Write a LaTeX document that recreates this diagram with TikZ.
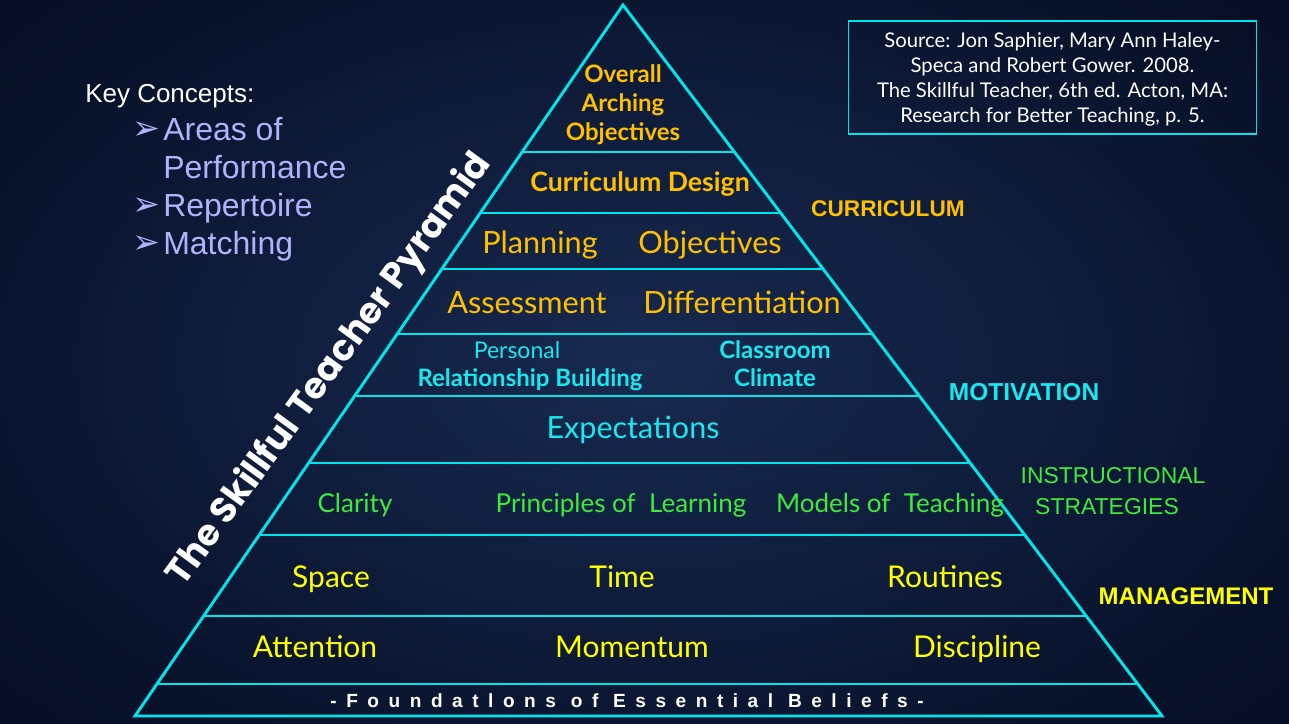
\documentclass[tikz,border=0pt]{standalone}
\usepackage{fontspec}
\usetikzlibrary{calc}
\setmainfont{Lato}
\newfontfamily\arialf{Liberation Sans}
\newfontfamily\spacedf[LetterSpace=50]{Liberation Sans}
\newfontfamily\titlef{Poppins}
\newfontfamily\symf{DejaVu Sans}
\newcommand\fsz[2]{\fontsize{#1}{#2}\selectfont}

\definecolor{bgin}{RGB}{24,42,80}
\definecolor{bgout}{RGB}{5,14,36}
\definecolor{edgecyan}{RGB}{0,228,236}
\definecolor{txtcyan}{RGB}{25,232,240}
\definecolor{gold}{RGB}{255,192,0}
\definecolor{lgreen}{RGB}{60,235,60}
\definecolor{yel}{RGB}{255,255,0}
\definecolor{lav}{RGB}{178,178,252}

\tikzset{
  edge/.style={draw=edgecyan, line width=2.2pt, line join=miter},
  tier/.style={draw=edgecyan, line width=1.1pt},
  % cap-height box: the node centre sits in the middle of the capitals
  lbl/.style={inner sep=0pt, text height=#1, text depth=0pt, anchor=center},
  goldb/.style={lbl=12.96pt, text=gold, font=\bfseries\fsz{18}{22}},
  goldr/.style={lbl=16.56pt, text=gold, font=\fsz{23}{27}},
  cyanr/.style={lbl=12.42pt, text=txtcyan, font=\fsz{17.25}{21}},
  cyanb/.style={lbl=12.96pt, text=txtcyan, font=\bfseries\fsz{18}{22}},
  cyanbig/.style={lbl=16.5pt, text=txtcyan, font=\fsz{22.9}{27}},
  greenr/.style={lbl=14.04pt, text=lgreen, font=\fsz{19.5}{23}},
  yelr/.style={lbl=16.2pt, text=yel, font=\fsz{22.5}{27}},
  keyitem/.style={inner sep=0pt, text height=17.2pt, text depth=0pt, anchor=west,
                  text=lav, font=\arialf\fsz{24}{28}},
  bullet/.style={inner sep=0pt, text height=15pt, text depth=0pt, text=lav, font=\symf\fsz{25}{28}},
}

\begin{document}
\begin{tikzpicture}[x=0.75pt, y=-0.75pt]
  \path[use as bounding box] (0,0) rectangle (1289,724);
  \shade[inner color=bgin, outer color=bgout] (-200,-150) rectangle (1489,874);

  % pyramid outline
  \coordinate (apex) at (623,5);
  \coordinate (bl) at (135,716);
  \coordinate (br) at (1162,716);
  \foreach \yy in {152,213,269,334,396,463,535,616,684}
    \draw[tier] ($(apex)!{(\yy-5)/711}!(bl)$) -- ($(apex)!{(\yy-5)/711}!(br)$);
  \draw[edge] (apex) -- (br) -- (bl) -- cycle;

  % curriculum tiers
  \node[goldb] (oa1) at (623,74) {Overall};
  \node[goldb] (oa2) at (623,103) {Arching};
  \node[goldb] (oa3) at (623,132) {Objectives};
  \node[lbl=14.4pt, text=gold, font=\bfseries\fsz{20}{24}] (cd) at (640,182) {Curriculum Design};
  \node[goldr] (plan) at (540,242) {Planning};
  \node[goldr] (obj) at (710,242) {Objectives};
  \node[goldr] (assess) at (527,302) {Assessment};
  \node[goldr] (diff) at (742,302) {Differentiation};

  % motivation tiers
  \node[cyanr] (pers) at (517,350) {Personal};
  \node[cyanb] (rel) at (530,378) {Relationship Building};
  \node[cyanb] (class) at (775,350) {Classroom};
  \node[cyanb] (clim) at (775,378) {Climate};
  \node[cyanbig] (expect) at (633,427) {Expectations};

  % instructional strategies tier
  \node[greenr] (clar) at (355,503) {Clarity};
  \node[greenr] (princ) at (621,503) {Principles of\ \ Learning};
  \node[greenr] (models) at (890,503) {Models of\ \ Teaching};

  % management tiers
  \node[yelr] (space) at (331,577) {Space};
  \node[yelr] (time) at (622,577) {Time};
  \node[yelr] (rout) at (945,577) {Routines};
  \node[yelr] (att) at (315,647) {Attention};
  \node[yelr] (mom) at (632,647) {Momentum};
  \node[yelr] (disc) at (977,647) {Discipline};

  % foundation
  \node[lbl=10.24pt, text=white, font=\spacedf\bfseries\fsz{14.3}{17}] (found) at (627,701)
    {-Foundatlons of Essential Beliefs-};

  % area labels on the right
  \node[lbl=12.2pt, text=gold, font=\arialf\bfseries\fsz{17}{20}] (curr) at (888,208) {CURRICULUM};
  \node[lbl=13.2pt, text=txtcyan, font=\arialf\bfseries\fsz{18.4}{22}] (motiv) at (1024,392) {MOTIVATION};
  \node[lbl=12.3pt, text=lgreen, font=\arialf\fsz{17.2}{20}] (instr1) at (1113,475) {INSTRUCTIONAL};
  \node[lbl=12.3pt, text=lgreen, font=\arialf\fsz{17.2}{20}] (instr2) at (1107,506) {STRATEGIES};
  \node[lbl=12.9pt, text=yel, font=\arialf\bfseries\fsz{18}{22}] (mgmt) at (1186,596) {MANAGEMENT};

  % title along the left edge
  \node[inner sep=0pt, text=white, rotate=54, font=\titlef\bfseries\fsz{27}{32}] (title) at (330,370)
    {The Skillful Teacher Pyramid};

  % source box
  \node[draw=edgecyan, line width=0.8pt, minimum width=408*0.75pt, minimum height=113*0.75pt,
        inner sep=0pt] (src) at (1052.5,77.5) {};
  \node[align=center, inner sep=0pt, text=white, font=\fsz{15.2}{18.75}] (srctext) at (1052.5,79)
    {Source: Jon Saphier, Mary Ann Haley-\\Speca and Robert Gower. 2008.\\The Skillful Teacher, 6th ed. Acton, MA:\\Research for Better Teaching, p. 5.};

  % key concepts
  \node[inner sep=0pt, anchor=west, text height=14pt, text depth=0pt, text=white,
        font=\arialf\fsz{19.5}{23}] (key) at (85,93) {Key Concepts:};
  \node[keyitem] (k1) at (163,129) {Areas of};
  \node[keyitem] (k1b) at (163,167) {Performance};
  \node[keyitem] (k2) at (163,205) {Repertoire};
  \node[keyitem] (k3) at (163,243) {Matching};
  \node[bullet] (b1) at (146,129) {➢};
  \node[bullet] (b2) at (146,205) {➢};
  \node[bullet] (b3) at (146,243) {➢};
\end{tikzpicture}
\end{document}
